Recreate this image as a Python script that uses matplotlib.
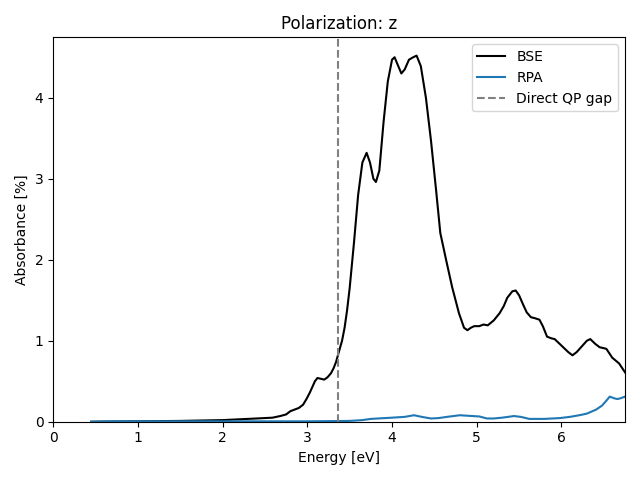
import numpy as np
import matplotlib
matplotlib.use('Agg')
import matplotlib.pyplot as plt

# BSE absorbance (energy [eV], absorbance [%])
bse_e = [0.45, 1.0, 1.5, 2.0, 2.2, 2.4, 2.59, 2.68, 2.75, 2.8, 2.85, 2.9, 2.95, 2.99,
         3.03, 3.06, 3.09, 3.12, 3.16, 3.20, 3.24, 3.28, 3.31, 3.34, 3.38, 3.41, 3.44,
         3.47, 3.50, 3.55, 3.60, 3.65, 3.70, 3.74, 3.78, 3.81, 3.85, 3.90, 3.95, 4.00, 4.03,
         4.07, 4.11, 4.15, 4.20, 4.25, 4.29, 4.34, 4.40, 4.46, 4.52, 4.57, 4.64, 4.71,
         4.79, 4.85, 4.89, 4.93, 4.97, 5.03, 5.08, 5.13, 5.20, 5.27, 5.32, 5.36, 5.42,
         5.46, 5.50, 5.55, 5.59, 5.64, 5.68, 5.74, 5.78, 5.83, 5.88, 5.92, 5.98, 6.04,
         6.08, 6.13, 6.18, 6.24, 6.30, 6.34, 6.40, 6.45, 6.53, 6.60, 6.68, 6.75]
bse_a = [0.0, 0.005, 0.01, 0.02, 0.03, 0.04, 0.05, 0.07, 0.09, 0.13, 0.15, 0.17, 0.21, 0.28,
         0.36, 0.43, 0.50, 0.54, 0.53, 0.52, 0.55, 0.60, 0.66, 0.74, 0.89, 1.00, 1.16,
         1.38, 1.65, 2.20, 2.80, 3.20, 3.32, 3.20, 3.00, 2.96, 3.10, 3.70, 4.20, 4.47, 4.50,
         4.40, 4.30, 4.35, 4.47, 4.50, 4.52, 4.39, 4.00, 3.47, 2.86, 2.33, 1.99, 1.66,
         1.34, 1.16, 1.13, 1.16, 1.18, 1.18, 1.20, 1.19, 1.25, 1.34, 1.43, 1.53, 1.61,
         1.62, 1.56, 1.44, 1.35, 1.29, 1.28, 1.26, 1.18, 1.05, 1.03, 1.02, 0.96, 0.90,
         0.86, 0.82, 0.86, 0.93, 1.00, 1.02, 0.96, 0.92, 0.90, 0.79, 0.72, 0.61]

# RPA absorbance
rpa_e = [0.45, 0.7, 1.0, 2.0, 3.0, 3.5, 3.65, 3.75, 4.0, 4.15, 4.26, 4.35, 4.46, 4.55,
         4.65, 4.80, 4.95, 5.03, 5.12, 5.20, 5.30, 5.44, 5.52, 5.62, 5.80, 5.98, 6.10,
         6.21, 6.30, 6.41, 6.48, 6.53, 6.57, 6.62, 6.66, 6.70, 6.75]
rpa_a = [0.0, 0.005, 0.005, 0.005, 0.005, 0.01, 0.02, 0.035, 0.05, 0.06, 0.08, 0.06, 0.04, 0.045,
         0.06, 0.08, 0.07, 0.065, 0.04, 0.04, 0.05, 0.07, 0.06, 0.035, 0.035, 0.045, 0.06,
         0.08, 0.10, 0.15, 0.20, 0.26, 0.31, 0.29, 0.28, 0.29, 0.31]

qp_gap = 3.366

fig, ax = plt.subplots(figsize=(6.4, 4.8), dpi=100)
ax.plot(bse_e, bse_a, color='black', label='BSE')
ax.plot(rpa_e, rpa_a, color='C0', label='RPA')
ax.axvline(qp_gap, color='gray', linestyle='--', label='Direct QP gap')
ax.set_xlim(0, 6.75)
ax.set_ylim(bottom=0)
ax.set_xlabel('Energy [eV]')
ax.set_ylabel('Absorbance [%]')
ax.set_title('Polarization: z')
ax.legend(loc='upper right')
fig.tight_layout()
fig.savefig('out.png')
